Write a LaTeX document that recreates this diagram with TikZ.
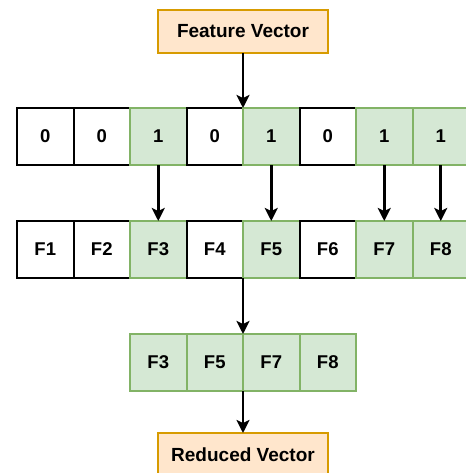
\documentclass[tikz,border=0pt]{standalone}
\usepackage{fontspec}
\setmainfont{Liberation Sans}
\usetikzlibrary{arrows.meta}
\begin{document}
\begin{tikzpicture}[x=1pt,y=-1pt,
  cell/.style={draw=black,fill=white,line width=2pt,minimum width=56.5pt,minimum height=57pt,
    inner sep=0pt,outer sep=0pt,font=\fontsize{18.5}{20}\selectfont\bfseries},
  on/.style={draw=greenedge,fill=greenfill},
  label/.style={draw=orangeedge,fill=orangefill,line width=2pt,minimum width=170pt,minimum height=43pt,
    inner sep=0pt,outer sep=0pt,font=\fontsize{19}{21}\selectfont\bfseries},
  arr/.style={line width=2.6pt,-{Stealth[length=13pt,width=13pt,inset=3pt]}}]
\definecolor{greenfill}{HTML}{D5E8D4}
\definecolor{greenedge}{HTML}{82B366}
\definecolor{orangefill}{HTML}{FFE6CC}
\definecolor{orangeedge}{HTML}{D79B00}
\useasboundingbox (0,0) rectangle (465,473);

\node[label] (fv) at (243,31.5) {Feature Vector};

% selection mask
\foreach \v [count=\i] in {0,0,1,0,1,0,1,1}{
  \ifnum\v=1
    \node[cell,on] (r1c\i) at ({17+56.5*(\i-0.5)},136.5) {\v};
  \else
    \node[cell] (r1c\i) at ({17+56.5*(\i-0.5)},136.5) {\v};
  \fi
}

% full feature set
\foreach \v [count=\i] in {0,0,1,0,1,0,1,1}{
  \ifnum\v=1
    \node[cell,on] (r2c\i) at ({17+56.5*(\i-0.5)},249.5) {F\i};
  \else
    \node[cell] (r2c\i) at ({17+56.5*(\i-0.5)},249.5) {F\i};
  \fi
}

% reduced feature set
\foreach \f [count=\i] in {3,5,7,8}{
  \node[cell,on] (r3c\i) at ({130+56.5*(\i-0.5)},362.5) {F\f};
}

\node[label] (rv) at (243,454.5) {Reduced Vector};

\draw[arr] (fv.south) -- (r1c5.north west);
\foreach \i in {3,5,7,8}{
  \draw[arr] (r1c\i.south) -- (r2c\i.north);
}
\draw[arr] (r2c5.south west) -- (r3c3.north west);
\draw[arr] (r3c3.south west) -- (rv.north);
\end{tikzpicture}
\end{document}
